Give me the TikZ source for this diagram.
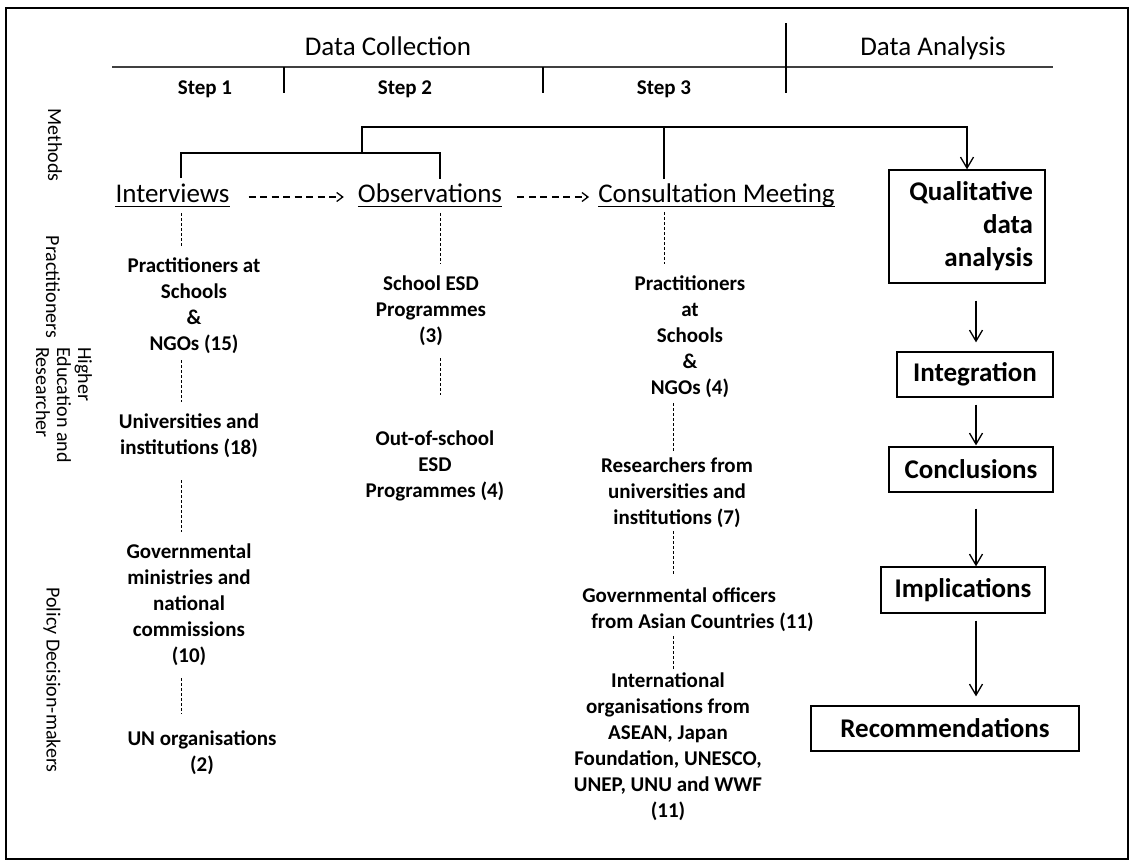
\documentclass[tikz,border=0pt]{standalone}
\usepackage{fontspec}
\setmainfont{Carlito}
\usetikzlibrary{positioning,calc,arrows.meta}

\begin{document}
\begin{tikzpicture}[x=1pt,y=-1pt,
head/.style={font=\fontsize{27}{33}\selectfont,inner sep=0pt},
steplbl/.style={font=\fontsize{21}{26}\selectfont\bfseries,inner sep=0pt},
side/.style={font=\fontsize{20}{21}\selectfont,rotate=-90,inner sep=0pt},
method/.style={font=\fontsize{27}{33}\selectfont,inner sep=0pt},
group/.style={font=\fontsize{21}{26}\selectfont\bfseries,align=center,inner sep=0pt},
box/.style={draw,line width=1.3pt,font=\fontsize{27}{33}\selectfont\bfseries,inner sep=0pt,minimum height=45pt},
bracket/.style={line width=1.3pt},
link/.style={line width=1pt,dash pattern=on 3pt off 2pt},
uline/.style={line width=1.5pt},
flow/.style={line width=1.3pt,-{Straight Barb[length=11pt,width=13pt,line width=1.3pt]}},
next/.style={line width=1.3pt,dash pattern=on 7pt off 4.5pt,-{Straight Barb[length=6pt,width=9pt,line width=1.3pt]}}]

\useasboundingbox (0,0) rectangle (1130,862);
\draw[line width=2pt] (6,8) rectangle (1128,859);

% phases and steps
\node[head,anchor=base] (dc) at (388,55) {Data Collection};
\node[head,anchor=base] (da) at (933,55) {Data Analysis};
\node[steplbl,anchor=base] (s1) at (205,94) {Step 1};
\node[steplbl,anchor=base] (s2) at (405,94) {Step 2};
\node[steplbl,anchor=base] (s3) at (664,94) {Step 3};

\draw[line width=1.3pt,black!75] (112,67) -- (1053,67);
\draw[line width=2pt] (786,23) -- (786,93);
\draw[line width=1.2pt] (284,67) -- (284,93);
\draw[line width=1.2pt] (543,67) -- (543,93);

% row labels
\node[side] (mt) at (55,145) {Methods};
\node[side] (pr) at (53,287) {Practitioners};
\node[side,anchor=west,align=left] (he) at (64,347) {Higher\\Education and\\Researcher};
\node[side] (pd) at (52,680) {Policy Decision-makers};

% methods
\node[method,anchor=base] (iv) at (172.5,202) {Interviews};
\node[method,anchor=base] (ob) at (430,202) {Observations};
\node[method,anchor=base] (cm) at (716.5,202) {Consultation Meeting};

\draw[uline] ([yshift=-4.5pt]iv.base west) -- ([yshift=-4.5pt]iv.base east);
\draw[uline] ([yshift=-4.5pt]ob.base west) -- ([yshift=-4.5pt]ob.base east);
\draw[uline] ([yshift=-4.5pt]cm.base west) -- ([yshift=-4.5pt]cm.base east);

% participants
\node[group] (pa) at (194,306) {Practitioners at\\Schools\\\&\\NGOs (15)};
\node[group] (un) at (189,436) {Universities and\\institutions (18)};
\node[group] (gm) at (189,605) {Governmental\\ministries and\\national\\commissions\\(10)};
\node[group] (uo) at (202,753) {UN organisations\\(2)};

\node[group] (se) at (431,311) {School ESD\\Programmes\\(3)};
\node[group] (os) at (435,466) {Out-of-school\\ESD\\Programmes (4)};

\node[group] (pb) at (690,337) {Practitioners\\at\\Schools\\\&\\NGOs (4)};
\node[group] (rs) at (677,493) {Researchers from\\universities and\\institutions (7)};
\node[group,align=left] (go) at (698,610) {Governmental officers\\\hspace*{9pt}from Asian Countries (11)};
\node[group] (io) at (668,747) {International\\organisations from\\ASEAN, Japan\\Foundation, UNESCO,\\UNEP, UNU and WWF\\(11)};

% analysis
\node[box,minimum width=156pt,minimum height=113pt,text width=132pt,align=right] (qa) at (967,226.5) {Qualitative\\data\\analysis};
\node[box,minimum width=156pt] (ig) at (975,374.5) {Integration};
\node[box,minimum width=164pt] (cc) at (971,469.5) {Conclusions};
\node[box,minimum width=164pt,minimum height=46pt] (im) at (963,590) {Implications};
\node[box,minimum width=268pt] (rc) at (945,728.5) {Recommendations};

% hidden columns
\coordinate (ca) at (181,0);
\coordinate (cb) at (440,0);
\coordinate (cj) at (362,0);
\coordinate (cr) at (664,0);
\coordinate (cs) at (673,0);
\coordinate (ax) at (976,0);
\coordinate (ylow) at (0,153);
\coordinate (yhigh) at (0,127);

% brackets
\draw[bracket,shorten <=5pt,shorten >=4pt] (iv.north -| ca) -- (ca |- ylow) -- (cb |- ylow) -- (ob.north -| cb);
\draw[bracket,-{Straight Barb[length=11pt,width=13pt,line width=1.3pt]}] (cj |- ylow) -- (cj |- yhigh) -| (qa.north);
\draw[bracket,shorten <=4pt] (cm.north -| cr) -- (cr |- yhigh);

\draw[next,shorten <=19pt,shorten >=14pt] ([yshift=5pt]iv.base east) -- ([yshift=5pt]ob.base west);
\draw[next,shorten <=15pt,shorten >=9pt] ([yshift=5pt]ob.base east) -- ([yshift=5pt]cm.base west);

% dashed links
\draw[link,shorten <=11pt,shorten >=11pt] (iv.south -| ca) -- (pa.north -| ca);
\draw[link,shorten <=6pt,shorten >=12pt] (pa.south -| ca) -- (un.north -| ca);
\draw[link,shorten <=22pt,shorten >=12pt] (un.south -| ca) -- (gm.north -| ca);
\draw[link,shorten <=12pt,shorten >=17pt] (gm.south -| ca) -- (uo.north -| ca);
\draw[link,shorten <=11pt,shorten >=12pt] (ob.south -| cb) -- (se.north -| cb);
\draw[link,shorten <=12pt,shorten >=36pt] (se.south -| cb) -- (os.north -| cb);
\draw[link,shorten <=5.5pt,shorten >=12pt] (cm.south -| cr) -- (pb.north -| cr);
\draw[link,shorten <=5pt,shorten >=5pt] (pb.south -| cs) -- (rs.north -| cs);
\draw[link,shorten <=3pt,shorten >=12pt] (rs.south -| cs) -- (go.north -| cs);
\draw[link,shorten <=4pt,shorten >=3pt] (go.south -| cs) -- (io.north -| cs);

% analysis chain
\draw[flow,shorten <=17pt,shorten >=9pt] (qa.south -| ax) -- (ig.north -| ax);
\draw[flow,shorten <=7pt,shorten >=1pt] (ig.south -| ax) -- (cc.north -| ax);
\draw[flow,shorten <=16pt] (cc.south -| ax) -- (im.north -| ax);
\draw[flow,shorten <=7pt,shorten >=9pt] (im.south -| ax) -- (rc.north -| ax);

\end{tikzpicture}
\end{document}
